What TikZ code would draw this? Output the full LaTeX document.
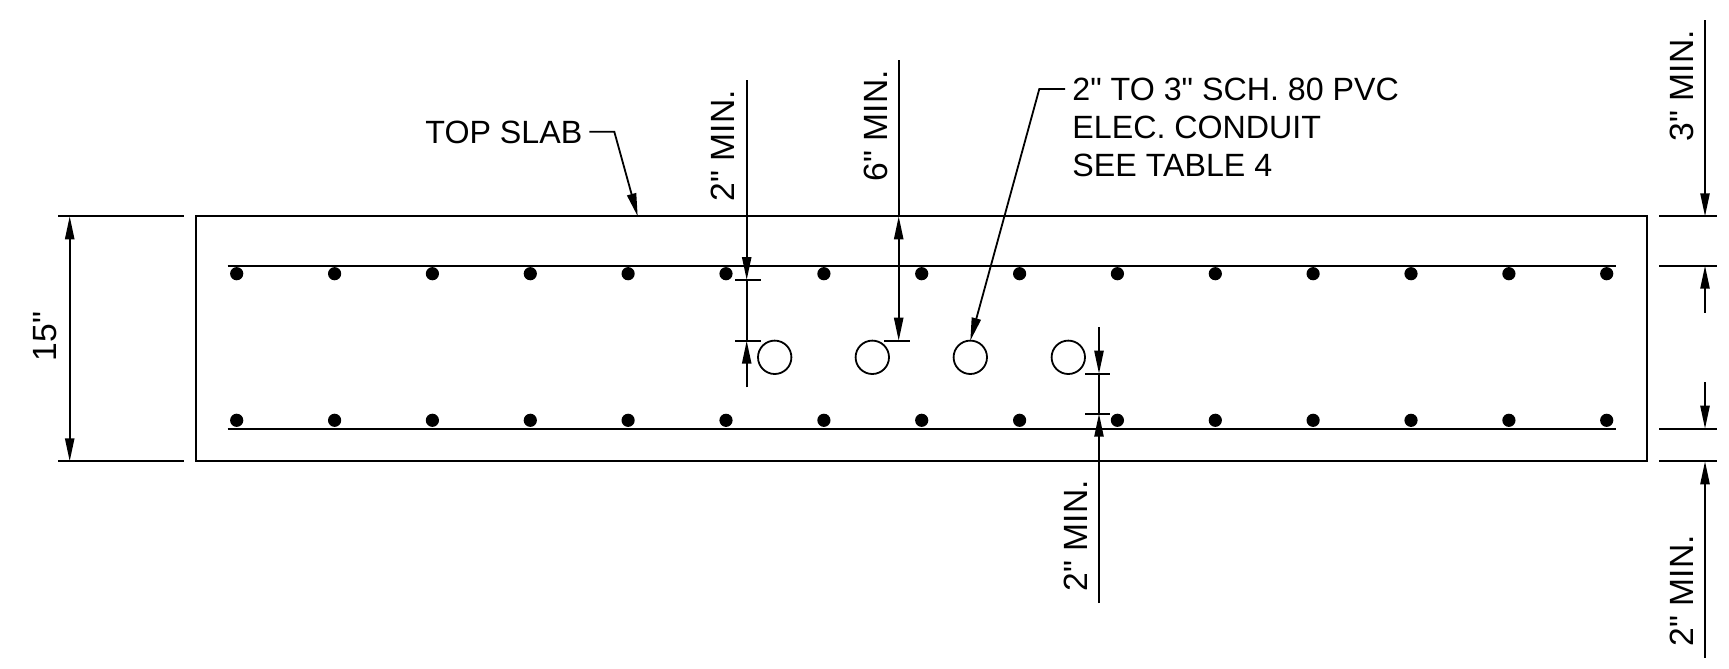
\documentclass[tikz,border=0pt]{standalone}
\usepackage{fontspec}
\setmainfont{Liberation Sans}[Ligatures=TeXOff]
\usetikzlibrary{arrows.meta}

\begin{document}
\begin{tikzpicture}[x=.5pt,y=-.5pt,line width=.9pt,
    every node/.style={font=\fontsize{16.1}{19.2}\selectfont},
    tip/.style={-{Triangle[length=11.5pt,width=4.6pt]}},
    tips/.style={{Triangle[length=11.5pt,width=4.6pt]}-{Triangle[length=11.5pt,width=4.6pt]}},
    rebar/.style={circle, fill=black, inner sep=0pt, minimum size=6.6pt},
    conduit/.style={circle, draw, inner sep=0pt, minimum size=16.7pt},
    dimlabel/.style={rotate=90, anchor=base west, inner sep=0pt, font=\fontsize{16.8}{19.2}\selectfont},
    label/.style={anchor=base west, inner sep=0pt}]

    \useasboundingbox (0,0) rectangle (1729,669);

    %% slab outline
    \node[draw, minimum width=725.65pt, minimum height=122.5pt, inner sep=0pt] (slab) at (921.35,338.8) {};

    %% top bars
    \coordinate (topL) at (227.7,265.5);
    \coordinate (topR) at (1615.5,265.5);
    \draw[line width=1pt] (topL) -- (topR);
    \node[rebar] (tb1) at (236.7,273.7) {};
    \node[rebar] (tb2) at (334.6,273.7) {};
    \node[rebar] (tb3) at (432.4,273.7) {};
    \node[rebar] (tb4) at (530.3,273.7) {};
    \node[rebar] (tb5) at (628.1,273.7) {};
    \node[rebar] (tb6) at (726,273.7) {};
    \node[rebar] (tb7) at (823.9,273.7) {};
    \node[rebar] (tb8) at (921.7,273.7) {};
    \node[rebar] (tb9) at (1019.6,273.7) {};
    \node[rebar] (tb10) at (1117.4,273.7) {};
    \node[rebar] (tb11) at (1215.3,273.7) {};
    \node[rebar] (tb12) at (1313.1,273.7) {};
    \node[rebar] (tb13) at (1411,273.7) {};
    \node[rebar] (tb14) at (1508.9,273.7) {};
    \node[rebar] (tb15) at (1606.7,273.7) {};

    %% bottom bars
    \coordinate (botL) at (227.7,428.7);
    \coordinate (botR) at (1615.5,428.7);
    \draw[line width=1pt] (botL) -- (botR);
    \node[rebar] (bb1) at (236.7,420.3) {};
    \node[rebar] (bb2) at (334.6,420.3) {};
    \node[rebar] (bb3) at (432.4,420.3) {};
    \node[rebar] (bb4) at (530.3,420.3) {};
    \node[rebar] (bb5) at (628.1,420.3) {};
    \node[rebar] (bb6) at (726,420.3) {};
    \node[rebar] (bb7) at (823.9,420.3) {};
    \node[rebar] (bb8) at (921.7,420.3) {};
    \node[rebar] (bb9) at (1019.6,420.3) {};
    \node[rebar] (bb10) at (1117.4,420.3) {};
    \node[rebar] (bb11) at (1215.3,420.3) {};
    \node[rebar] (bb12) at (1313.1,420.3) {};
    \node[rebar] (bb13) at (1411,420.3) {};
    \node[rebar] (bb14) at (1508.9,420.3) {};
    \node[rebar] (bb15) at (1606.7,420.3) {};

    %% conduits
    \node[conduit] (c1) at (774.7,357.3) {};
    \node[conduit] (c2) at (872.3,357.3) {};
    \node[conduit] (c3) at (970.3,357.3) {};
    \node[conduit] (c4) at (1068.3,357.3) {};

    %% 15 inch dimension
    \coordinate (h1) at (58.3,216.3);
    \coordinate (h2) at (184,216.3);
    \coordinate (h3) at (58.3,461.3);
    \coordinate (h4) at (184,461.3);
    \coordinate (hT) at (69.7,216.3);
    \coordinate (hB) at (69.7,461.3);
    \draw (h1) -- (h2);
    \draw (h3) -- (h4);
    \draw[tips] (hT) -- (hB);
    \node[dimlabel] (thick) at (56.7,362) {15"};

    %% 2 inch cover over conduit
    \coordinate (a0) at (746.7,80);
    \coordinate (a1) at (746.7,280);
    \coordinate (a2) at (746.7,340.7);
    \coordinate (a3) at (746.7,387.3);
    \coordinate (a1l) at (735.3,280);
    \coordinate (a1r) at (761,280);
    \coordinate (a2l) at (735.3,340.7);
    \coordinate (a2r) at (761,340.7);
    \draw[tip] (a0) -- (a1);
    \draw (a1) -- (a2);
    \draw[tip] (a3) -- (a2);
    \draw (a1l) -- (a1r);
    \draw (a2l) -- (a2r);
    \node[dimlabel] (twomin) at (734,202) {2" MIN.};

    %% 6 inch
    \coordinate (b0) at (898.7,60);
    \coordinate (b1) at (898.7,216.3);
    \coordinate (b2) at (898.7,340.7);
    \coordinate (b2l) at (884.3,340.7);
    \coordinate (b2r) at (910,340.7);
    \draw (b0) -- (b1);
    \draw[tips] (b1) -- (b2);
    \draw (b2l) -- (b2r);
    \node[dimlabel] (sixmin) at (887,182) {6" MIN.};

    %% 2 inch cover under conduit
    \coordinate (d0) at (1099,327.3);
    \coordinate (d1) at (1099,373.7);
    \coordinate (d2) at (1099,413.7);
    \coordinate (d3) at (1099,603);
    \coordinate (d1l) at (1085,373.7);
    \coordinate (d1r) at (1110.3,373.7);
    \coordinate (d2l) at (1085,413.7);
    \coordinate (d2r) at (1110.3,413.7);
    \draw[tip] (d0) -- (d1);
    \draw (d1) -- (d2);
    \draw[tip] (d3) -- (d2);
    \draw (d1l) -- (d1r);
    \draw (d2l) -- (d2r);
    \node[dimlabel] (twomin2) at (1087,592) {2" MIN.};

    %% right side, top
    \coordinate (e0) at (1705,20);
    \coordinate (e1) at (1705,216.3);
    \coordinate (e2) at (1705,265.7);
    \coordinate (e3) at (1705,312.7);
    \coordinate (e1l) at (1659,216.3);
    \coordinate (e1r) at (1716.7,216.3);
    \coordinate (e2l) at (1659,265.7);
    \coordinate (e2r) at (1716.7,265.7);
    \draw[tip] (e0) -- (e1);
    \draw[tip] (e3) -- (e2);
    \draw (e1l) -- (e1r);
    \draw (e2l) -- (e2r);
    \node[dimlabel] (threemin) at (1693,142) {3" MIN.};

    %% right side, bottom
    \coordinate (f0) at (1705,382.3);
    \coordinate (f1) at (1705,428.7);
    \coordinate (f2) at (1705,461.3);
    \coordinate (f3) at (1705,657.7);
    \coordinate (f1l) at (1659,428.7);
    \coordinate (f1r) at (1716.7,428.7);
    \coordinate (f2l) at (1659,461.3);
    \coordinate (f2r) at (1716.7,461.3);
    \draw[tip] (f0) -- (f1);
    \draw[tip] (f3) -- (f2);
    \draw (f1l) -- (f1r);
    \draw (f2l) -- (f2r);
    \node[dimlabel] (twomin3) at (1693,647) {2" MIN.};

    %% leaders
    \node[label] (topslab) at (424.5,143.5) {TOP SLAB};
    \coordinate (g0) at (589.3,131.7);
    \coordinate (g1) at (614.3,131.7);
    \coordinate (g2) at (637.7,216.3);
    \draw[tip] (g0) -- (g1) -- (g2);

    \node[label] (pvc1) at (1071.5,100) {2" TO 3" SCH. 80 PVC};
    \node[label] (pvc2) at (1071.5,138.3) {ELEC. CONDUIT};
    \node[label] (pvc3) at (1071.5,176.7) {SEE TABLE 4};
    \coordinate (k0) at (1065,89);
    \coordinate (k1) at (1039.3,89);
    \coordinate (k2) at (970.3,340.7);
    \draw[tip] (k0) -- (k1) -- (k2);
\end{tikzpicture}
\end{document}
